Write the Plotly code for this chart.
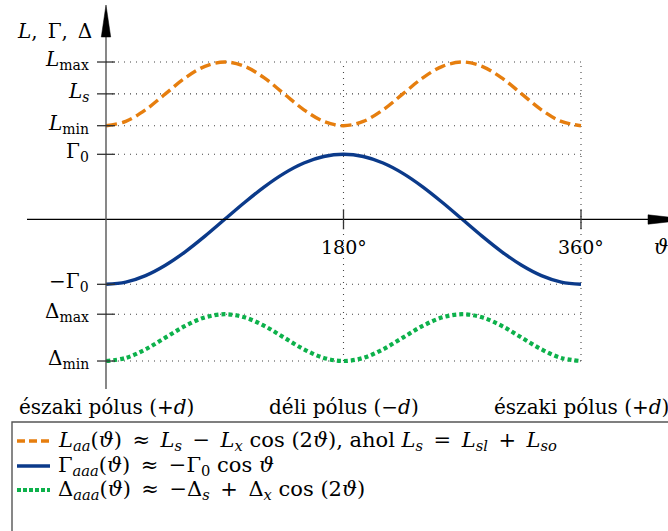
import plotly.graph_objects as go

# Angle samples (degrees) along the rotor position
theta = [0, 15, 30, 45, 60, 75, 90, 105, 120, 135, 150, 165, 180,
         195, 210, 225, 240, 255, 270, 285, 300, 315, 330, 345, 360]

# Self inductance L_aa: oscillates between L_min and L_max with period 180°
L_aa = [1.44, 1.506, 1.685, 1.93, 2.175, 2.354, 2.42, 2.354, 2.175, 1.93, 1.685, 1.506, 1.44,
        1.506, 1.685, 1.93, 2.175, 2.354, 2.42, 2.354, 2.175, 1.93, 1.685, 1.506, 1.44]

# Gamma_aaa: goes from -Gamma0 to +Gamma0 and back
Gamma_aaa = [-1.0, -0.966, -0.866, -0.707, -0.5, -0.259, 0.0, 0.259, 0.5, 0.707, 0.866, 0.966, 1.0,
             0.966, 0.866, 0.707, 0.5, 0.259, 0.0, -0.259, -0.5, -0.707, -0.866, -0.966, -1.0]

# Delta_aaa: between Delta_min and Delta_max, period 180°
Delta_aaa = [-2.18, -2.132, -2.0, -1.82, -1.64, -1.508, -1.46, -1.508, -1.64, -1.82, -2.0, -2.132, -2.18,
             -2.132, -2.0, -1.82, -1.64, -1.508, -1.46, -1.508, -1.64, -1.82, -2.0, -2.132, -2.18]

# Labelled levels on the vertical axis
y_tick_vals = [2.42, 1.93, 1.44, 1.0, -1.0, -1.46, -2.18]
y_tick_text = ["<i>L</i><sub>max</sub>", "<i>L</i><sub><i>s</i></sub>", "<i>L</i><sub>min</sub>",
               "Γ<sub>0</sub>", "−Γ<sub>0</sub>", "Δ<sub>max</sub>", "Δ<sub>min</sub>"]

# Labelled angles on the horizontal axis
x_tick_vals = [180, 360]
x_tick_text = ["180°", "360°"]

# Pole labels below the plot
pole_x = [0, 180, 360]
pole_text = ["északi pólus (+<i>d</i>)", "déli pólus (−<i>d</i>)", "északi pólus (+<i>d</i>)"]

S = "\u2002"  # space around relation / binary operators
legend_text = [
    f"<i>L</i><sub><i>aa</i></sub>(<i>ϑ</i>){S}≈{S}<i>L</i><sub><i>s</i></sub>{S}−{S}<i>L</i><sub><i>x</i></sub> cos (2<i>ϑ</i>), "
    f"ahol <i>L</i><sub><i>s</i></sub>{S}={S}<i>L</i><sub><i>sl</i></sub>{S}+{S}<i>L</i><sub><i>so</i></sub>",
    f"Γ<sub><i>aaa</i></sub>(<i>ϑ</i>){S}≈{S}−Γ<sub>0</sub> cos <i>ϑ</i>",
    f"Δ<sub><i>aaa</i></sub>(<i>ϑ</i>){S}≈{S}−Δ<sub><i>s</i></sub>{S}+{S}Δ<sub><i>x</i></sub> cos (2<i>ϑ</i>)",
]

ORANGE = "#E67E0E"
BLUE = "#0B3A8A"
GREEN = "#0DB14B"
FONT = "DejaVu Serif"

W, H = 668, 531
X_RANGE = [-80.34, 425.94]
Y_RANGE = [-4.795, 3.374]


def px_to_paper(px, py):
    return px / W, 1 - py / H


fig = go.Figure()

styles = [
    (L_aa, ORANGE, "11px,5px", 3.4),
    (Gamma_aaa, BLUE, "solid", 3.4),
    (Delta_aaa, GREEN, "4px,3px", 4.2),
]
for ys, col, dash, w in styles:
    fig.add_trace(go.Scatter(x=theta, y=ys, mode="lines",
                             line=dict(color=col, width=w, dash=dash, shape="spline", smoothing=1.0),
                             hoverinfo="skip", showlegend=False))

shapes = []
GRID = dict(color="#444444", width=1.1, dash="1px,5px")

# dotted guide lines at the labelled levels
for v in y_tick_vals:
    shapes.append(dict(type="line", xref="x", yref="y", x0=0, x1=max(x_tick_vals), y0=v, y1=v,
                       line=GRID, layer="below"))
for v in x_tick_vals:
    shapes.append(dict(type="line", xref="x", yref="y", x0=v, x1=v,
                       y0=min(y_tick_vals), y1=max(y_tick_vals), line=GRID, layer="below"))

# axes
shapes.append(dict(type="line", xref="paper", yref="y", x0=27 / W, x1=650 / W, y0=0, y1=0,
                   line=dict(color="black", width=1.2)))
shapes.append(dict(type="line", xref="x", yref="paper", x0=0, x1=0,
                   y0=1 - 389 / H, y1=1 - 30 / H, line=dict(color="#555555", width=1.4)))


# arrow heads
def tri(points):
    pts = [px_to_paper(*p) for p in points]
    return "M " + " L ".join(f"{a:.5f},{b:.5f}" for a, b in pts) + " Z"


shapes.append(dict(type="path", xref="paper", yref="paper",
                   path=tri([(106, 5), (101.3, 37), (110.7, 37)]),
                   fillcolor="black", line=dict(color="black", width=0.5)))
shapes.append(dict(type="path", xref="paper", yref="paper",
                   path=tri([(690, 219.5), (648, 214.8), (648, 224.2)]),
                   fillcolor="black", line=dict(color="black", width=0.5)))

# tick marks crossing the axes
for v in y_tick_vals:
    shapes.append(dict(type="line", xref="x", yref="y", xsizemode="pixel", xanchor=0,
                       x0=-9, x1=9, y0=v, y1=v, line=dict(color="#333333", width=1.3)))
for v in x_tick_vals:
    shapes.append(dict(type="line", xref="x", yref="y", ysizemode="pixel", yanchor=0,
                       x0=v, x1=v, y0=-10, y1=10, line=dict(color="#333333", width=1.3)))

# legend box and samples
shapes.append(dict(type="rect", xref="paper", yref="paper",
                   x0=12 / W, x1=720 / W, y0=1 - 600 / H, y1=1 - 422 / H,
                   line=dict(color="#555555", width=1.4), fillcolor="white"))
legend_y = [441, 466, 490]
legend_styles = [(ORANGE, "8px,4px", 3.4), (BLUE, "solid", 3.4), (GREEN, "4px,2px", 4.0)]
for py, (col, dash, w) in zip(legend_y, legend_styles):
    shapes.append(dict(type="line", xref="paper", yref="paper",
                       x0=17 / W, x1=50 / W, y0=1 - py / H, y1=1 - py / H,
                       line=dict(color=col, width=w, dash=dash)))

annotations = []
for v, t in zip(y_tick_vals, y_tick_text):
    annotations.append(dict(x=0, y=v, xref="x", yref="y", text=t, showarrow=False,
                            xanchor="right", yanchor="middle", xshift=-15, yshift=2,
                            font=dict(family=FONT, size=20, color="black")))
for v, t in zip(x_tick_vals, x_tick_text):
    annotations.append(dict(x=v, y=0, xref="x", yref="y", text=t, showarrow=False,
                            xanchor="center", yanchor="middle", yshift=-28,
                            font=dict(family=FONT, size=19, color="black")))
annotations.append(dict(x=661 / W, y=1 - 247 / H, xref="paper", yref="paper", text="<i>ϑ</i>",
                        showarrow=False, xanchor="center", yanchor="middle",
                        font=dict(family=FONT, size=20, color="black")))
annotations.append(dict(x=0, y=1 - 31 / H, xref="x", yref="paper", text="<i>L</i>,\u2002Γ,\u2002Δ",
                        showarrow=False, xanchor="right", yanchor="middle", xshift=-12,
                        font=dict(family=FONT, size=20, color="black")))
for v, t in zip(pole_x, pole_text):
    annotations.append(dict(x=v, y=1 - 407 / H, xref="x", yref="paper", text=t, showarrow=False,
                            xanchor="center", yanchor="middle",
                            font=dict(family=FONT, size=20, color="black")))
for py, t in zip(legend_y, legend_text):
    annotations.append(dict(x=56 / W, y=1 - py / H, xref="paper", yref="paper", text=t,
                            showarrow=False, xanchor="left", yanchor="middle",
                            font=dict(family=FONT, size=21, color="black")))

fig.update_layout(
    width=W, height=H,
    margin=dict(l=0, r=0, t=0, b=0),
    paper_bgcolor="white", plot_bgcolor="white",
    xaxis=dict(range=X_RANGE, visible=False, fixedrange=True),
    yaxis=dict(range=Y_RANGE, visible=False, fixedrange=True),
    shapes=shapes, annotations=annotations,
    showlegend=False,
)

fig.write_html("out.html")
